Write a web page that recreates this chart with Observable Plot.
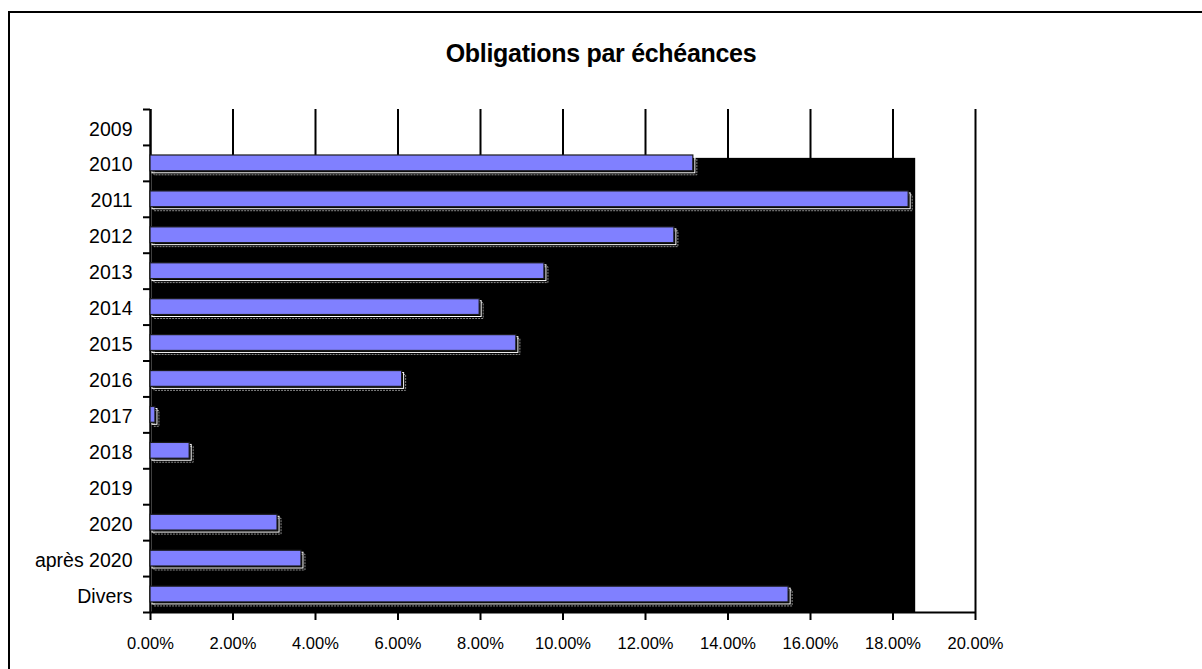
<!DOCTYPE html>
<html>
<head>
<meta charset="utf-8">
<script src="https://cdn.jsdelivr.net/npm/d3@7"></script>
<script src="https://cdn.jsdelivr.net/npm/@observablehq/plot@0.6"></script>
<style>
  html, body { margin: 0; padding: 0; background: #fff; overflow: hidden; }
  #wrap { position: relative; width: 1202px; height: 669px; overflow: hidden; font-family: "Liberation Sans", Arial, sans-serif; }
  #frame { position: absolute; left: 8px; top: 11px; width: 1400px; height: 900px; border: 2px solid #000; box-sizing: border-box; }
  #title { position: absolute; left: 0; width: 1202px; top: 41px; text-align: center; font-weight: bold; font-size: 25px; line-height: 25px; color: #000; letter-spacing: -0.3px; }
  #chart { position: absolute; left: 0; top: 0; }
</style>
</head>
<body>
<div id="wrap">
  <div id="frame"></div>
  <div id="title">Obligations par échéances</div>
  <div id="chart"></div>
</div>
<script>
// Data (percent)
const categories = ["2009", "2010", "2011", "2012", "2013", "2014", "2015", "2016", "2017", "2018", "2019", "2020", "après 2020", "Divers"];
const values = [0, 13.16, 18.38, 12.70, 9.55, 7.98, 8.87, 6.10, 0.12, 0.95, 0, 3.08, 3.66, 15.47];
const xTicks = [0, 2, 4, 6, 8, 10, 12, 14, 16, 18, 20];
// Extent of the black plot-area fill seen in the reference
const fillExtent = [{x2: 18.55, yTop: 1.36}];

const rows = categories.map((c, i) => ({cat: c, i, v: values[i]})).filter(d => d.v > 0);
const n = categories.length;

const barTop = d => d.i + 0.28;
const barBottom = d => d.i + 0.72;

const chart = Plot.plot({
  width: 1202,
  height: 669,
  marginLeft: 150,
  marginRight: 227,
  marginTop: 109,
  marginBottom: 57,
  style: {fontFamily: "'Liberation Sans', Arial, sans-serif", background: "transparent", color: "#000"},
  x: {domain: [0, 20]},
  y: {domain: [0, n], reverse: true},
  marks: [
    // vertical gridlines
    Plot.ruleX(xTicks, {stroke: "#000", strokeWidth: 2}),
    // black plot-area fill
    Plot.rect(fillExtent, {x1: 0, x2: "x2", y1: "yTop", y2: n, fill: "#000", insetLeft: 2}),
    // axis lines
    Plot.ruleX([0], {stroke: "#000", strokeWidth: 2}),
    Plot.ruleY([n], {stroke: "#000", strokeWidth: 2}),
    // shadows
    Plot.rect(rows, {x1: 0, x2: "v", y1: barTop, y2: barBottom, dx: 4, dy: 4, fill: "none", stroke: "#8a8a8a", strokeWidth: 1, strokeDasharray: "2,1"}),
    Plot.rect(rows, {x1: 0, x2: "v", y1: barTop, y2: barBottom, dx: 2, dy: 2, fill: "none", stroke: "#fff", strokeWidth: 1}),
    // bars
    Plot.rect(rows, {x1: 0, x2: "v", y1: barTop, y2: barBottom, fill: "#8080ff", stroke: "#1a1a1a", strokeWidth: 1.2}),
    // y axis tick marks at category boundaries
    Plot.axisY(d3.range(n + 1), {tickSize: 7, tickFormat: () => "", stroke: "#000", strokeWidth: 2, label: null}),
    // y axis category labels
    Plot.axisY(d3.range(n).map(i => i + 0.55), {tickSize: 0, tickPadding: 18, tickFormat: (d) => categories[Math.round(d - 0.55)], fontSize: 19.5, label: null}),
    // x axis
    Plot.axisX(xTicks, {tickSize: 8, tickPadding: 17, tickFormat: d => d.toFixed(2) + "%", fontSize: 16.5, stroke: "#000", strokeWidth: 2, label: null})
  ]
});
document.getElementById("chart").appendChild(chart);
</script>
</body>
</html>
